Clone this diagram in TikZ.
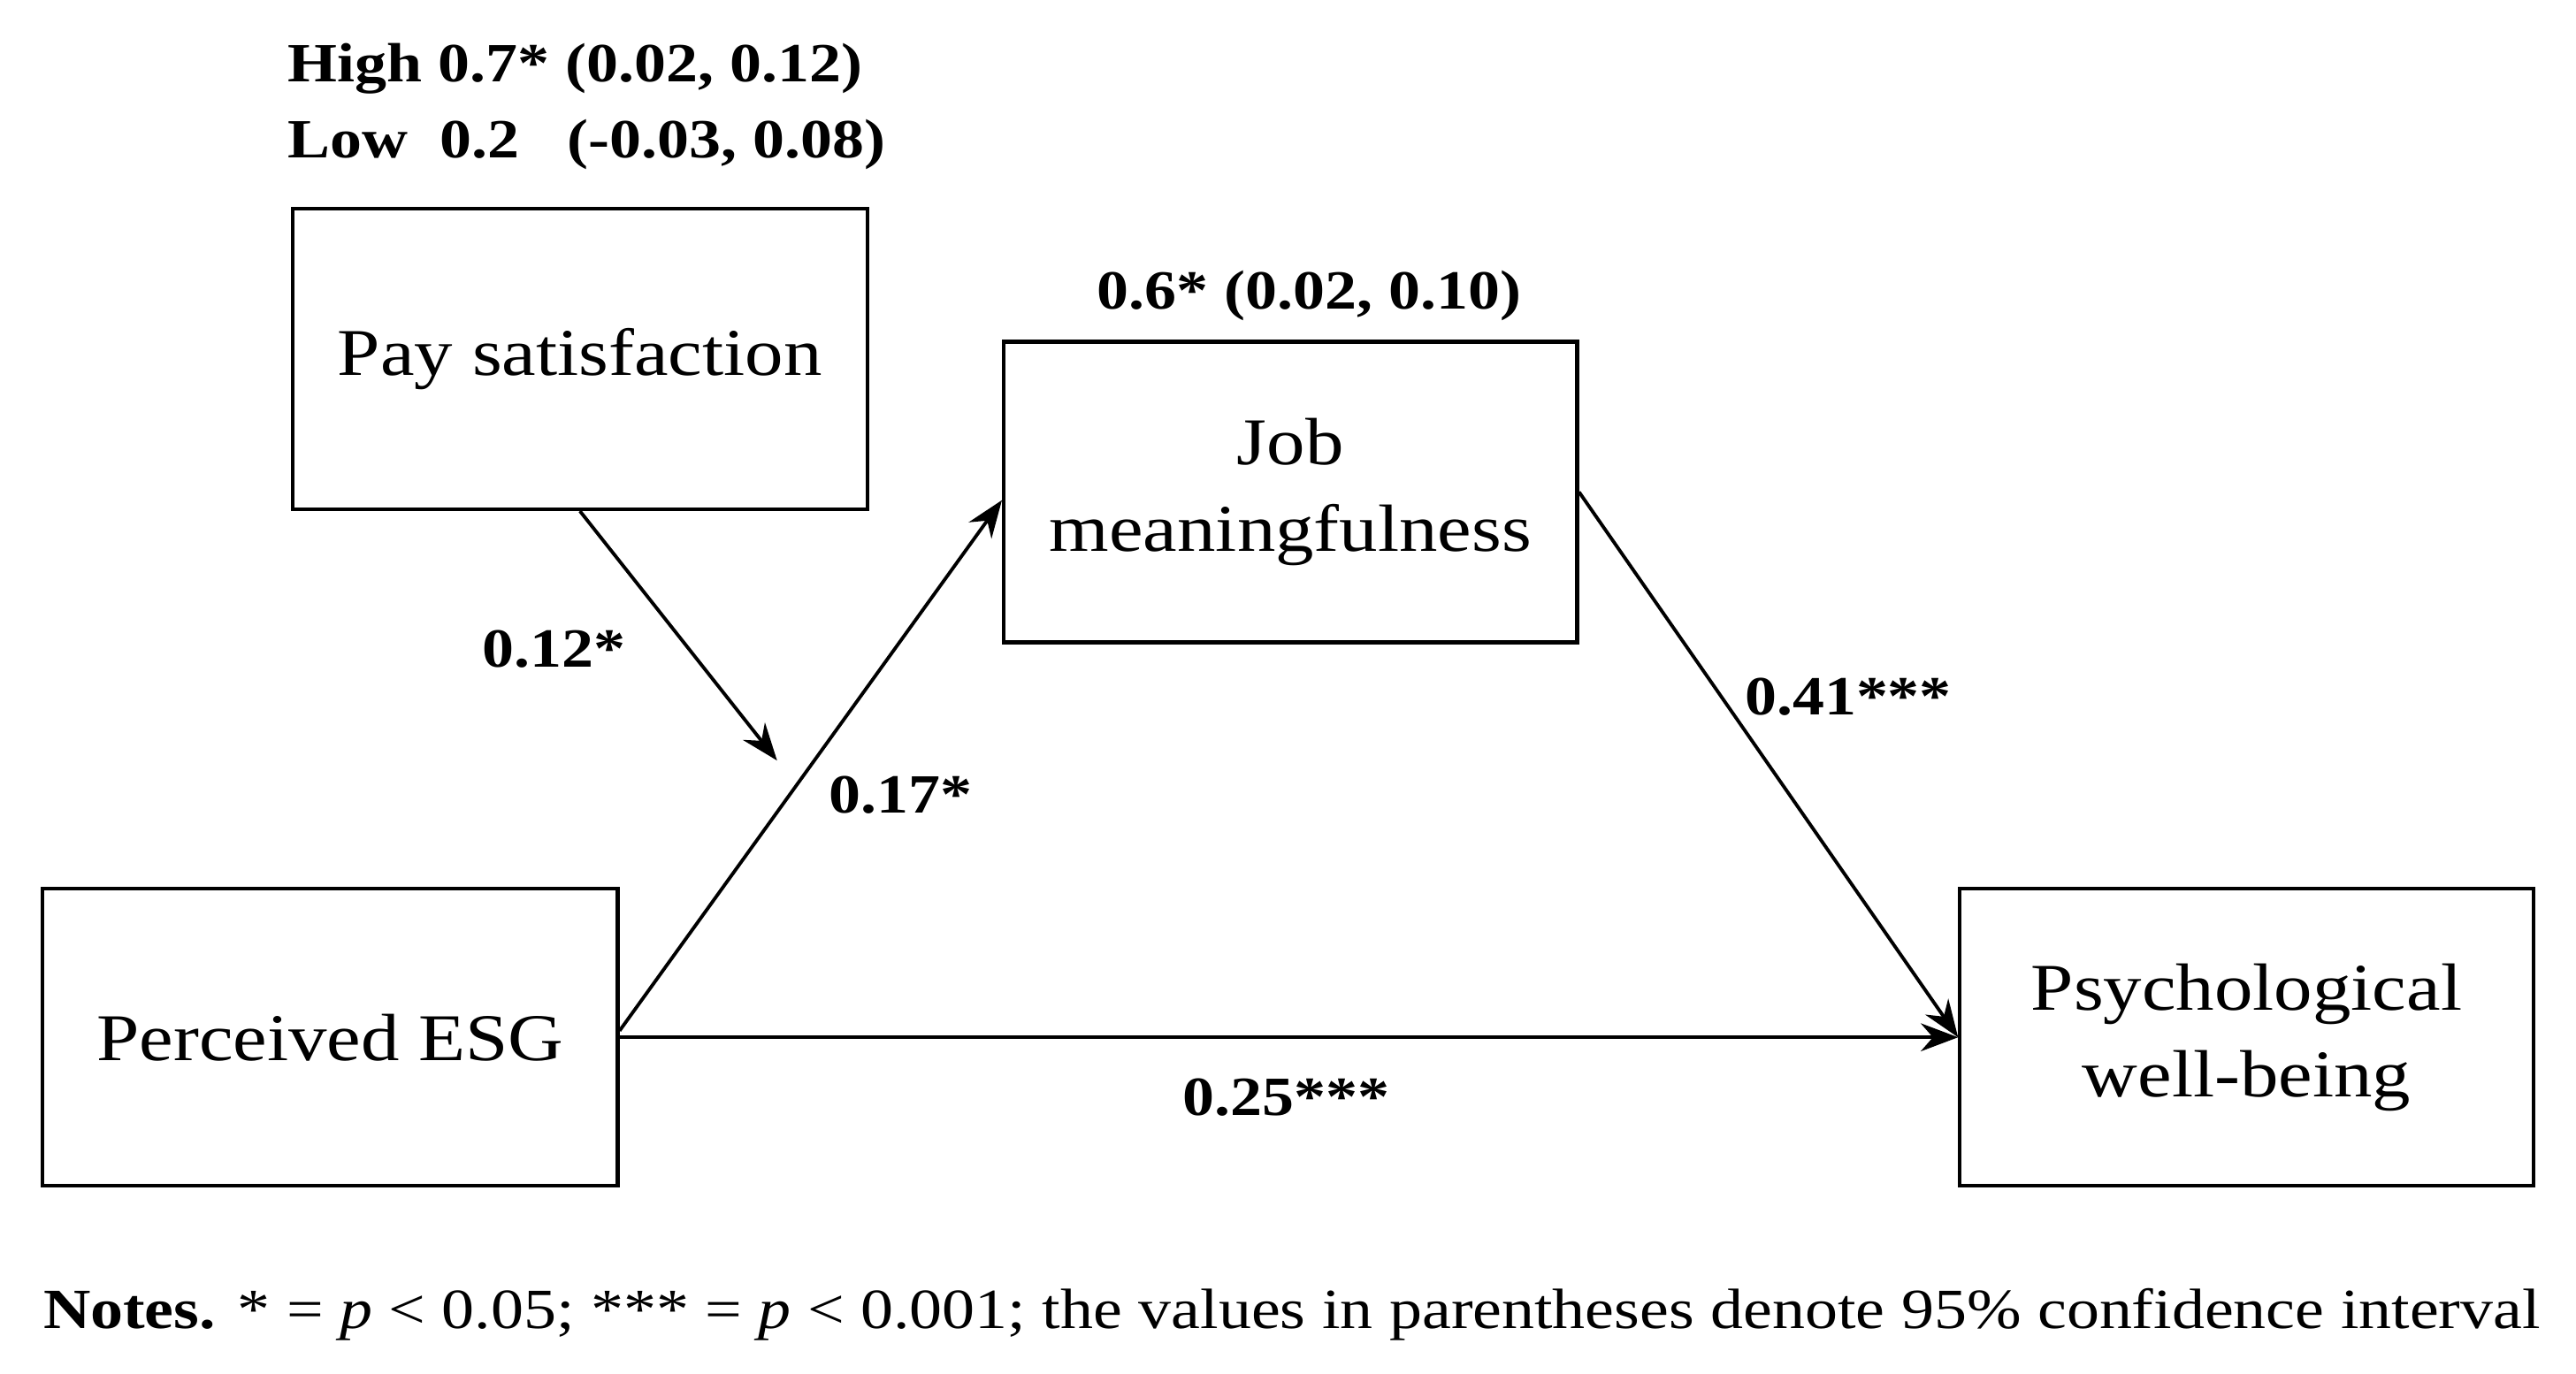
\documentclass[tikz,border=0pt]{standalone}
\usepackage{fontspec}
\setmainfont{Liberation Serif}[FakeStretch=1.15]
\usetikzlibrary{arrows.meta}
\begin{document}
\begin{tikzpicture}[x=0.01858cm,y=-0.01858cm,
  box/.style={draw,line width=1.2pt,inner sep=0pt,align=center,font=\fontsize{21.5}{28}\selectfont},
  lab/.style={font=\fontsize{17.8}{21}\selectfont\bfseries,inner sep=0pt},
  arr/.style={-{Stealth[length=12pt,width=9pt]},line width=1.1pt}]
\useasboundingbox (0,0) rectangle (1568,836);
\node[box,minimum width=350*0.01858cm,minimum height=183*0.01858cm] (pay) at (353,218.5) {Pay satisfaction};
\node[box,minimum width=349*0.01858cm,minimum height=183*0.01858cm] (job) at (785.5,299.5) {Job\\meaningfulness};
\node[box,minimum width=350*0.01858cm,minimum height=181*0.01858cm] (esg) at (201,631.5) {Perceived ESG};
\node[box,minimum width=349*0.01858cm,minimum height=181*0.01858cm] (psy) at (1367.5,631.5) {Psychological\\well-being};
\coordinate (m) at (473,463);
\draw[arr] (esg.east) ++(0,-4) -- ([yshift=-5*0.01858cm]job.west);
\draw[arr] (esg.east) -- (psy.west);
\draw[arr] (job.east) -- (psy.west);
\draw[arr] (pay.south) -- (m);
\node[lab,anchor=west] (hi) at (175,42) {High 0.7* (0.02, 0.12)};
\node[lab,anchor=west] (lo) at (175,88) {Low\ \ 0.2\ \ \ (-0.03, 0.08)};
\node[lab] (l6) at (797,180) {0.6* (0.02, 0.10)};
\node[lab] (l12) at (337,395) {0.12*};
\node[lab] (l17) at (548,484) {0.17*};
\node[lab] (l41) at (1125,424) {0.41***};
\node[lab] (l25) at (783,668) {0.25***};
\node[anchor=west,inner sep=0pt,font=\fontsize{18.3}{22}\selectfont] (notes) at (26,800) {\textbf{Notes.} * = \textit{p} < 0.05; *** = \textit{p} < 0.001; the values in parentheses denote 95\% confidence interval};
\end{tikzpicture}
\end{document}
